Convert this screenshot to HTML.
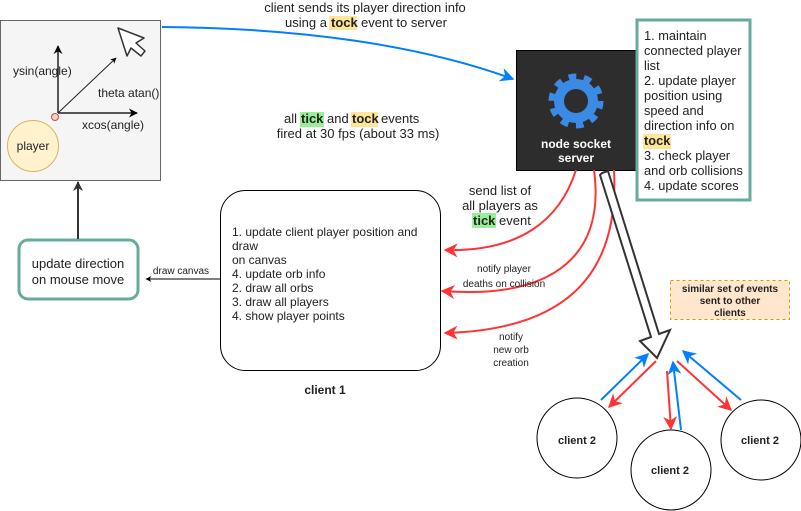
<!DOCTYPE html>
<html><head><meta charset="utf-8"><style>
body{margin:0;background:#fff}
svg{display:block}
text{font-family:"Liberation Sans",sans-serif;fill:#222}
</style></head><body>
<svg width="801" height="511" viewBox="0 0 801 511" xmlns="http://www.w3.org/2000/svg">
<defs>
<marker id="ab" viewBox="0 0 10 10" refX="9" refY="5" markerWidth="7" markerHeight="7" orient="auto"><path d="M0,0 L10,5 L0,10 L3,5 Z" fill="#007fff"/></marker>
<marker id="ar" viewBox="0 0 10 10" refX="9" refY="5" markerWidth="7" markerHeight="7" orient="auto"><path d="M0,0 L10,5 L0,10 L3,5 Z" fill="#ff3333"/></marker>
<marker id="ak" viewBox="0 0 10 10" refX="9" refY="5" markerWidth="6" markerHeight="6" orient="auto"><path d="M0,0 L10,5 L0,10 L3,5 Z" fill="#000"/></marker>
<marker id="ag" viewBox="0 0 10 10" refX="9" refY="5" markerWidth="5" markerHeight="5" orient="auto"><path d="M0,0 L10,5 L0,10 L3,5 Z" fill="#333"/></marker>
</defs>

<!-- left canvas box -->
<rect x="0.5" y="20.5" width="160" height="160" fill="#f5f5f5" stroke="#666"/>
<line x1="58" y1="113" x2="58" y2="46" stroke="#222" stroke-width="1.5" marker-end="url(#ak)"/>
<line x1="58" y1="113" x2="137" y2="113" stroke="#222" stroke-width="1.5" marker-end="url(#ak)"/>
<line x1="58" y1="113" x2="116" y2="58" stroke="#222" stroke-width="1" marker-end="url(#ak)"/>
<circle cx="55" cy="117" r="3.5" fill="#f8cecc" stroke="#b85450"/>
<text x="13" y="75" font-size="12">ysin(angle)</text>
<text x="98" y="97" font-size="12">theta atan()</text>
<text x="82" y="129" font-size="12">xcos(angle)</text>
<circle cx="33" cy="146" r="25.5" fill="#fff2cc" stroke="#d6b656"/>
<text x="33" y="150" font-size="12" text-anchor="middle">player</text>
<path d="M118,28 L127,56 L131,48 L141,56 L145,51 L136,43 L144,38 Z" fill="#fff" stroke="#333" stroke-width="1.5" stroke-linejoin="round"/>

<!-- top label + blue arrow -->
<text x="365" y="12" font-size="13" text-anchor="middle">client sends its player direction info</text>
<rect x="329" y="16" width="28" height="14" fill="#ffe599"/>
<text x="285" y="27" font-size="13">using a</text>
<text x="331" y="27" font-size="13" font-weight="bold">tock</text>
<text x="361" y="27" font-size="13">event to server</text>
<path d="M162,27 C300,28 420,45 513,79" fill="none" stroke="#007fff" stroke-width="2" marker-end="url(#ab)"/>

<rect x="300" y="112" width="24" height="15" fill="#99ee99"/>
<rect x="351" y="112" width="27" height="15" fill="#ffe599"/>
<text x="284" y="123" font-size="13">all</text>
<text x="301" y="123" font-size="13" font-weight="bold">tick</text>
<text x="327" y="123" font-size="13">and</text>
<text x="352" y="123" font-size="13" font-weight="bold">tock</text>
<text x="381" y="123" font-size="13">events</text>
<text x="358" y="138" font-size="13" text-anchor="middle">fired at 30 fps (about 33 ms)</text>

<!-- server -->
<rect x="516.5" y="50.5" width="120" height="120" fill="#2d2d2d" stroke="#000"/>
<circle cx="576" cy="101" r="22" fill="#3b8ae6"/>
<circle cx="576" cy="101" r="24" fill="none" stroke="#3b8ae6" stroke-width="7" stroke-dasharray="7.5 7.6"/>
<circle cx="576" cy="101" r="12" fill="#2d2d2d"/>
<text x="576" y="148" font-size="12" font-weight="bold" text-anchor="middle" style="fill:#fff">node socket</text>
<text x="576" y="162" font-size="12" font-weight="bold" text-anchor="middle" style="fill:#fff">server</text>

<!-- note box -->
<rect x="637" y="20" width="113" height="180" fill="#fff" stroke="#67ab9f" stroke-width="3"/>
<rect x="643" y="134" width="28" height="15" fill="#ffe599"/>
<g font-size="12.8">
<text x="644" y="40">1. maintain</text>
<text x="644" y="55">connected player</text>
<text x="644" y="70">list</text>
<text x="644" y="85">2. update player</text>
<text x="644" y="100">position using</text>
<text x="644" y="115">speed and</text>
<text x="644" y="130">direction info on</text>
<text x="644" y="145" font-weight="bold">tock</text>
<text x="644" y="160">3. check player</text>
<text x="644" y="175">and orb collisions</text>
<text x="644" y="190">4. update scores</text>
</g>

<!-- update direction -->
<rect x="19" y="240" width="119" height="59" rx="9" fill="#fff" stroke="#67ab9f" stroke-width="3"/>
<text x="78" y="268" font-size="13" text-anchor="middle">update direction</text>
<text x="78" y="284" font-size="13" text-anchor="middle">on mouse move</text>
<line x1="78" y1="239" x2="78" y2="182" stroke="#333" stroke-width="2" marker-end="url(#ag)"/>

<!-- client 1 -->
<rect x="220.5" y="190.5" width="220" height="180" rx="25" fill="#fff" stroke="#000"/>
<g font-size="12">
<text x="232" y="236">1. update client player position and</text>
<text x="232" y="250">draw</text>
<text x="232" y="264">on canvas</text>
<text x="232" y="278">4. update orb info</text>
<text x="232" y="292">2. draw all orbs</text>
<text x="232" y="306">3. draw all players</text>
<text x="232" y="320">4. show player points</text>
</g>
<text x="325" y="394" font-size="12" font-weight="bold" text-anchor="middle">client 1</text>
<line x1="220" y1="279" x2="146" y2="279" stroke="#000" stroke-width="1" marker-end="url(#ak)"/>
<text x="181" y="274" font-size="10" text-anchor="middle">draw canvas</text>

<!-- red curves -->
<path d="M576,170 C560,220 520,252 445,250" fill="none" stroke="#ff3333" stroke-width="2" marker-end="url(#ar)"/>
<path d="M594,170 C605,250 560,300 442,291" fill="none" stroke="#ff3333" stroke-width="2" marker-end="url(#ar)"/>
<path d="M614,170 C620,280 560,330 445,333" fill="none" stroke="#ff3333" stroke-width="2" marker-end="url(#ar)"/>
<rect x="472" y="213" width="24" height="15" fill="#99ee99"/>
<g font-size="13">
<text x="500" y="195" text-anchor="middle">send list of</text>
<text x="500" y="210" text-anchor="middle">all players as</text>
<text x="473" y="225" font-weight="bold">tick</text>
<text x="499" y="225">event</text>
</g>
<g font-size="10" text-anchor="middle">
<text x="504" y="272">notify player</text>
<text x="504" y="287">deaths on collision</text>
<text x="511" y="340">notify</text>
<text x="511" y="353">new orb</text>
<text x="511" y="366">creation</text>
</g>

<!-- hollow big arrow -->
<path d="M602,173 L608,171 L659,334 L670,330 L657,358 L640,341 L651,337 L600,175 Z" fill="#fff" stroke="#333" stroke-width="2" stroke-linejoin="miter"/>

<!-- dashed note -->
<rect x="670.5" y="280.5" width="119" height="39" fill="#ffe6cc" stroke="#d79b00" stroke-dasharray="3 3"/>
<g font-size="10" font-weight="bold" text-anchor="middle">
<text x="730" y="292">similar set of events</text>
<text x="730" y="304">sent to other</text>
<text x="730" y="316">clients</text>
</g>

<!-- client 2 circles -->
<circle cx="577" cy="438" r="40" fill="#fff" stroke="#000"/>
<circle cx="671" cy="470" r="40" fill="#fff" stroke="#000"/>
<circle cx="761" cy="440" r="40" fill="#fff" stroke="#000"/>
<g font-size="11" font-weight="bold" text-anchor="middle">
<text x="577" y="444">client 2</text>
<text x="670" y="474">client 2</text>
<text x="760" y="444">client 2</text>
</g>

<!-- small arrows -->
<line x1="601" y1="400" x2="648" y2="354" stroke="#007fff" stroke-width="2" marker-end="url(#ab)"/>
<line x1="656" y1="361" x2="609" y2="407" stroke="#ff3333" stroke-width="2" marker-end="url(#ar)"/>
<line x1="667" y1="371" x2="671" y2="429" stroke="#ff3333" stroke-width="2" marker-end="url(#ar)"/>
<line x1="681" y1="430" x2="673" y2="362" stroke="#007fff" stroke-width="2" marker-end="url(#ab)"/>
<line x1="677" y1="361" x2="731" y2="410" stroke="#ff3333" stroke-width="2" marker-end="url(#ar)"/>
<line x1="741" y1="400" x2="683" y2="351" stroke="#007fff" stroke-width="2" marker-end="url(#ab)"/>
</svg>
</body></html>
